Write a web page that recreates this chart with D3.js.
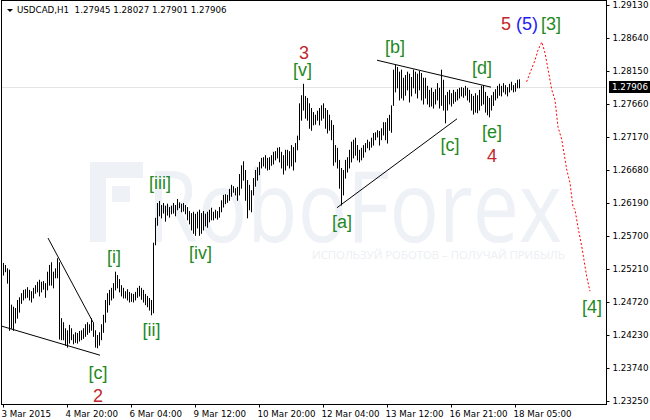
<!DOCTYPE html>
<html>
<head>
<meta charset="utf-8">
<script src="https://cdn.jsdelivr.net/npm/d3@7"></script>
<style>
body { margin: 0; background: #fff; }
text { font-family: "DejaVu Sans", sans-serif; }
</style>
</head>
<body>
<div id="chart"></div>
<script>
// USDCAD H1 bars, 3 Mar 2015 .. 18 Mar 2015 (one value per hour)
var hi = [
  1.2530, 1.2527, 1.2522, 1.2520, 1.2468, 1.2465, 1.2463, 1.2475, 1.2479, 1.2485,
  1.2490, 1.2491, 1.2494, 1.2490, 1.2488, 1.2493, 1.2497, 1.2502, 1.2505, 1.2502,
  1.2503, 1.2500, 1.2517, 1.2527, 1.2531, 1.2517, 1.2522, 1.2537, 1.2531, 1.2448,
  1.2442, 1.2433, 1.2430, 1.2438, 1.2433, 1.2424, 1.2427, 1.2426, 1.2429, 1.2430,
  1.2433, 1.2439, 1.2442, 1.2439, 1.2448, 1.2442, 1.2430, 1.2423, 1.2427, 1.2439,
  1.2453, 1.2475, 1.2485, 1.2490, 1.2493, 1.2500, 1.2517, 1.2512, 1.2506, 1.2497,
  1.2493, 1.2488, 1.2491, 1.2487, 1.2485, 1.2484, 1.2487, 1.2493, 1.2496, 1.2493,
  1.2490, 1.2484, 1.2481, 1.2478, 1.2475, 1.2560, 1.2597, 1.2619, 1.2622, 1.2616,
  1.2619, 1.2615, 1.2618, 1.2613, 1.2615, 1.2619, 1.2616, 1.2625, 1.2620, 1.2618,
  1.2619, 1.2616, 1.2613, 1.2607, 1.2604, 1.2606, 1.2603, 1.2606, 1.2609, 1.2604,
  1.2607, 1.2603, 1.2606, 1.2609, 1.2612, 1.2606, 1.2609, 1.2607, 1.2613, 1.2623,
  1.2631, 1.2632, 1.2631, 1.2640, 1.2646, 1.2644, 1.2641, 1.2643, 1.2662, 1.2675,
  1.2681, 1.2668, 1.2653, 1.2646, 1.2638, 1.2656, 1.2668, 1.2672, 1.2680, 1.2686,
  1.2687, 1.2690, 1.2686, 1.2687, 1.2690, 1.2695, 1.2696, 1.2701, 1.2702, 1.2695,
  1.2690, 1.2698, 1.2698, 1.2696, 1.2705, 1.2702, 1.2708, 1.2719, 1.2767, 1.2779,
  1.2796, 1.2778, 1.2775, 1.2767, 1.2760, 1.2754, 1.2750, 1.2756, 1.2760, 1.2764,
  1.2767, 1.2760, 1.2757, 1.2750, 1.2742, 1.2735, 1.2705, 1.2701, 1.2683, 1.2671,
  1.2668, 1.2683, 1.2687, 1.2698, 1.2710, 1.2713, 1.2716, 1.2705, 1.2698, 1.2701,
  1.2705, 1.2708, 1.2713, 1.2710, 1.2716, 1.2723, 1.2724, 1.2727, 1.2726, 1.2730,
  1.2739, 1.2739, 1.2745, 1.2750, 1.2764, 1.2817, 1.2824, 1.2821, 1.2814, 1.2817,
  1.2805, 1.2809, 1.2814, 1.2811, 1.2806, 1.2817, 1.2814, 1.2811, 1.2815, 1.2812,
  1.2805, 1.2805, 1.2793, 1.2787, 1.2790, 1.2784, 1.2788, 1.2797, 1.2790, 1.2817,
  1.2802, 1.2779, 1.2784, 1.2787, 1.2782, 1.2787, 1.2784, 1.2788, 1.2790, 1.2791,
  1.2790, 1.2793, 1.2790, 1.2787, 1.2781, 1.2778, 1.2782, 1.2779, 1.2787, 1.2793,
  1.2794, 1.2784, 1.2778, 1.2775, 1.2779, 1.2784, 1.2788, 1.2793, 1.2796, 1.2793,
  1.2797, 1.2794, 1.2791, 1.2796, 1.2799, 1.2794, 1.2797, 1.2802, 1.28027
];
var lo = [
  1.2512, 1.2517, 1.2500, 1.2430, 1.2433, 1.2430, 1.2441, 1.2448, 1.2457, 1.2470,
  1.2475, 1.2478, 1.2479, 1.2475, 1.2472, 1.2478, 1.2485, 1.2487, 1.2481, 1.2487,
  1.2491, 1.2479, 1.2490, 1.2497, 1.2497, 1.2493, 1.2508, 1.2508, 1.2417, 1.2416,
  1.2416, 1.2408, 1.2405, 1.2411, 1.2416, 1.2410, 1.2412, 1.2411, 1.2414, 1.2416,
  1.2418, 1.2421, 1.2424, 1.2427, 1.2430, 1.2421, 1.2405, 1.2404, 1.2408, 1.2416,
  1.2427, 1.2442, 1.2457, 1.2468, 1.2475, 1.2478, 1.2490, 1.2493, 1.2487, 1.2481,
  1.2478, 1.2478, 1.2475, 1.2472, 1.2473, 1.2472, 1.2475, 1.2479, 1.2481, 1.2476,
  1.2472, 1.2468, 1.2465, 1.2460, 1.2453, 1.2456, 1.2557, 1.2586, 1.2600, 1.2597,
  1.2604, 1.2592, 1.2601, 1.2598, 1.2603, 1.2604, 1.2600, 1.2609, 1.2612, 1.2606,
  1.2607, 1.2603, 1.2594, 1.2588, 1.2579, 1.2574, 1.2571, 1.2582, 1.2571, 1.2574,
  1.2579, 1.2585, 1.2583, 1.2591, 1.2594, 1.2594, 1.2597, 1.2595, 1.2598, 1.2606,
  1.2613, 1.2618, 1.2620, 1.2623, 1.2629, 1.2635, 1.2631, 1.2623, 1.2631, 1.2641,
  1.2653, 1.2623, 1.2597, 1.2609, 1.2606, 1.2631, 1.2644, 1.2653, 1.2661, 1.2671,
  1.2674, 1.2671, 1.2668, 1.2669, 1.2675, 1.2677, 1.2683, 1.2686, 1.2680, 1.2671,
  1.2662, 1.2668, 1.2675, 1.2671, 1.2674, 1.2668, 1.2680, 1.2698, 1.2713, 1.2742,
  1.2757, 1.2745, 1.2742, 1.2730, 1.2727, 1.2735, 1.2736, 1.2742, 1.2735, 1.2742,
  1.2745, 1.2730, 1.2723, 1.2727, 1.2713, 1.2675, 1.2680, 1.2671, 1.2641, 1.2616,
  1.2631, 1.2656, 1.2665, 1.2671, 1.2680, 1.2686, 1.2690, 1.2683, 1.2680, 1.2683,
  1.2687, 1.2695, 1.2701, 1.2698, 1.2702, 1.2705, 1.2713, 1.2717, 1.2705, 1.2713,
  1.2720, 1.2713, 1.2708, 1.2727, 1.2724, 1.2764, 1.2784, 1.2790, 1.2772, 1.2775,
  1.2772, 1.2779, 1.2787, 1.2769, 1.2778, 1.2790, 1.2782, 1.2775, 1.2787, 1.2772,
  1.2766, 1.2775, 1.2766, 1.2762, 1.2763, 1.2760, 1.2766, 1.2772, 1.2760, 1.2764,
  1.2757, 1.2738, 1.2757, 1.2766, 1.2763, 1.2767, 1.2770, 1.2772, 1.2775, 1.2778,
  1.2776, 1.2779, 1.2772, 1.2769, 1.2757, 1.2751, 1.2754, 1.2753, 1.2757, 1.2764,
  1.2766, 1.2754, 1.2750, 1.2747, 1.2757, 1.2764, 1.2772, 1.2775, 1.2779, 1.2778,
  1.2784, 1.2781, 1.2778, 1.2784, 1.2787, 1.2784, 1.2785, 1.2790, 1.27901
];
var lastOHLC = ["1.27945", "1.28027", "1.27901", "1.27906"];
var lastClose = 1.27906;

var priceTicks = [1.2913, 1.2864, 1.2815, 1.2766, 1.2717, 1.2668, 1.2619,
                  1.2570, 1.2521, 1.2472, 1.2423, 1.2374, 1.2325];
var timeTickIdx = [0, 32, 64, 96, 128, 160, 192, 224, 256];
var timeTickLabels = ["3 Mar 2015", "4 Mar 20:00", "6 Mar 04:00", "9 Mar 12:00",
  "10 Mar 20:00", "12 Mar 04:00", "13 Mar 12:00", "16 Mar 21:00", "18 Mar 05:00"];

// forecast path (bar index, price)
var forecastIdx   = [261.8, 264.4, 266, 267.5, 269.4, 271, 274.4, 276, 277.5, 279.4,
                     281.9, 283.5, 285, 286, 287.5, 289.4, 290.5, 291.9, 293.5];
var forecastPrice = [1.2799, 1.2819, 1.2831, 1.2846, 1.2858, 1.2842, 1.2787, 1.2772, 1.2732, 1.2713,
                     1.2668, 1.2649, 1.2613, 1.2609, 1.2583, 1.2554, 1.2534, 1.2509, 1.2488];

// trend lines [i1, p1, i2, p2]
var trendLines = [
  [22.5, 1.2567, 45, 1.2442],
  [-0.5, 1.2436, 48.5, 1.2393],
  [167, 1.2612, 227, 1.2744],
  [187, 1.2831, 244, 1.2791]
];

// wave marks
var waveText  = ["3", "[v]", "[b]", "[d]", "5", "(5)", "[3]", "[c]", "[e]", "4",
                 "[a]", "[iii]", "[iv]", "[i]", "[ii]", "[c]", "2", "[4]"];
var waveIdx   = [150.5, 149.75, 196, 239.5, 251.5, 262, 274, 223.5, 244.5, 244.5,
                 169.5, 78.5, 98.75, 55.5, 74.25, 47.5, 47.5, 294.5];
var wavePrice = [1.2833, 1.2808, 1.2842, 1.2810, 1.2876, 1.2876, 1.2876, 1.2696, 1.2715, 1.2680,
                 1.2582, 1.2640, 1.2536, 1.2530, 1.2421, 1.2358, 1.2323, 1.2456];
var waveColor = ["red", "green", "green", "green", "red", "blue", "green", "green", "green", "red",
                 "green", "green", "green", "green", "green", "green", "red", "green"];
var colors = { red: "#c1272d", green: "#1f8a24", blue: "#1c1cf0" };

var W = 650, H = 420;
var plot = { left: 1.5, right: 606.5, top: 0.5, bottom: 404.5 };

var svg = d3.select("#chart").append("svg")
  .attr("width", W).attr("height", H);

var x = d3.scaleLinear().domain([0, 258]).range([3, 519]);
var y = d3.scaleLinear().domain([1.2325, 1.2913]).range([401, 5]);

// watermark
var wm = svg.append("g").attr("fill", "#eef1f6");
wm.append("rect").attr("x", 90).attr("y", 162).attr("width", 53).attr("height", 16);
wm.append("rect").attr("x", 90).attr("y", 162).attr("width", 16).attr("height", 80);
wm.append("rect").attr("x", 112).attr("y", 186).attr("width", 18).attr("height", 16);
wm.append("text")
  .attr("x", 147).attr("y", 242)
  .attr("textLength", 415).attr("lengthAdjust", "spacingAndGlyphs")
  .style("font-family", "'Open Sans', sans-serif")
  .style("font-size", "98px")
  .text("RoboForex");
wm.append("text")
  .attr("x", 312).attr("y", 259)
  .attr("textLength", 253).attr("lengthAdjust", "spacingAndGlyphs")
  .attr("fill", "#eceff3")
  .style("font-family", "'Open Sans', sans-serif")
  .style("font-size", "11px")
  .text("ИСПОЛЬЗУЙ РОБОТОВ – ПОЛУЧАЙ ПРИБЫЛЬ");

// current price line
svg.append("line")
  .attr("x1", plot.left).attr("x2", plot.right)
  .attr("y1", Math.round(y(lastClose)) + 0.5).attr("y2", Math.round(y(lastClose)) + 0.5)
  .attr("stroke", "#e4e4e4");

// bars
svg.append("g")
  .attr("stroke", "#000")
  .attr("stroke-width", 1)
  .selectAll("line")
  .data(hi)
  .enter().append("line")
  .attr("x1", function(d, i) { return Math.round(x(i)) + 0.5; })
  .attr("x2", function(d, i) { return Math.round(x(i)) + 0.5; })
  .attr("y1", function(d) { return y(d); })
  .attr("y2", function(d, i) { return y(lo[i]) + 0.5; });

// trend lines
svg.append("g")
  .attr("stroke", "#000")
  .attr("stroke-width", 1)
  .selectAll("line")
  .data(trendLines)
  .enter().append("line")
  .attr("x1", function(d) { return x(d[0]); })
  .attr("y1", function(d) { return y(d[1]); })
  .attr("x2", function(d) { return x(d[2]); })
  .attr("y2", function(d) { return y(d[3]); });

// forecast
var fc = forecastIdx.map(function(d, i) { return [d, forecastPrice[i]]; });
svg.append("path")
  .datum(fc)
  .attr("fill", "none")
  .attr("stroke", "#ff0000")
  .attr("stroke-width", 1)
  .attr("stroke-dasharray", "2,2")
  .attr("d", d3.line()
    .x(function(d) { return x(d[0]); })
    .y(function(d) { return y(d[1]); }));

// wave labels
svg.append("g")
  .selectAll("text")
  .data(waveText)
  .enter().append("text")
  .attr("x", function(d, i) { return x(waveIdx[i]); })
  .attr("y", function(d, i) { return y(wavePrice[i]); })
  .attr("text-anchor", "middle")
  .attr("fill", function(d, i) { return colors[waveColor[i]]; })
  .style("font-family", "'Liberation Sans', Arial, sans-serif")
  .style("font-size", "18px")
  .text(function(d) { return d; });

// frame
svg.append("rect")
  .attr("x", plot.left).attr("y", plot.top)
  .attr("width", plot.right - plot.left).attr("height", plot.bottom - plot.top)
  .attr("fill", "none").attr("stroke", "#000");

// price axis
var yAxis = svg.append("g")
  .attr("transform", "translate(" + plot.right + ",0)")
  .call(d3.axisRight(y).tickValues(priceTicks).tickSize(3).tickPadding(3)
    .tickFormat(d3.format(".5f")));
yAxis.select(".domain").remove();
yAxis.selectAll("text")
  .style("font-family", "'DejaVu Sans', sans-serif")
  .style("font-size", "8.7px")
  .attr("fill", "#000");

// current price box
var cy = Math.round(y(lastClose));
svg.append("rect")
  .attr("x", 609).attr("y", cy - 6).attr("width", 41).attr("height", 12)
  .attr("fill", "#000");
svg.append("text")
  .attr("x", 612).attr("y", cy + 3)
  .attr("fill", "#fff")
  .style("font-size", "8.7px")
  .text(lastOHLC[3]);

// time axis
var xAxis = svg.append("g")
  .attr("transform", "translate(0," + plot.bottom + ")")
  .call(d3.axisBottom(x).tickValues(timeTickIdx).tickSize(3).tickPadding(3)
    .tickFormat(function(d, i) { return timeTickLabels[i]; }));
xAxis.select(".domain").remove();
xAxis.selectAll("text")
  .attr("text-anchor", "start")
  .attr("dx", -2)
  .style("font-family", "'DejaVu Sans', sans-serif")
  .style("font-size", "8.7px")
  .attr("fill", "#000");

// header
svg.append("path")
  .attr("d", "M7,9 L13,9 L10,12 Z")
  .attr("fill", "#000");
svg.append("text")
  .attr("x", 17).attr("y", 13)
  .style("font-size", "8.7px")
  .style("white-space", "pre")
  .text("USDCAD,H1  " + lastOHLC.join(" "));
</script>
</body>
</html>
